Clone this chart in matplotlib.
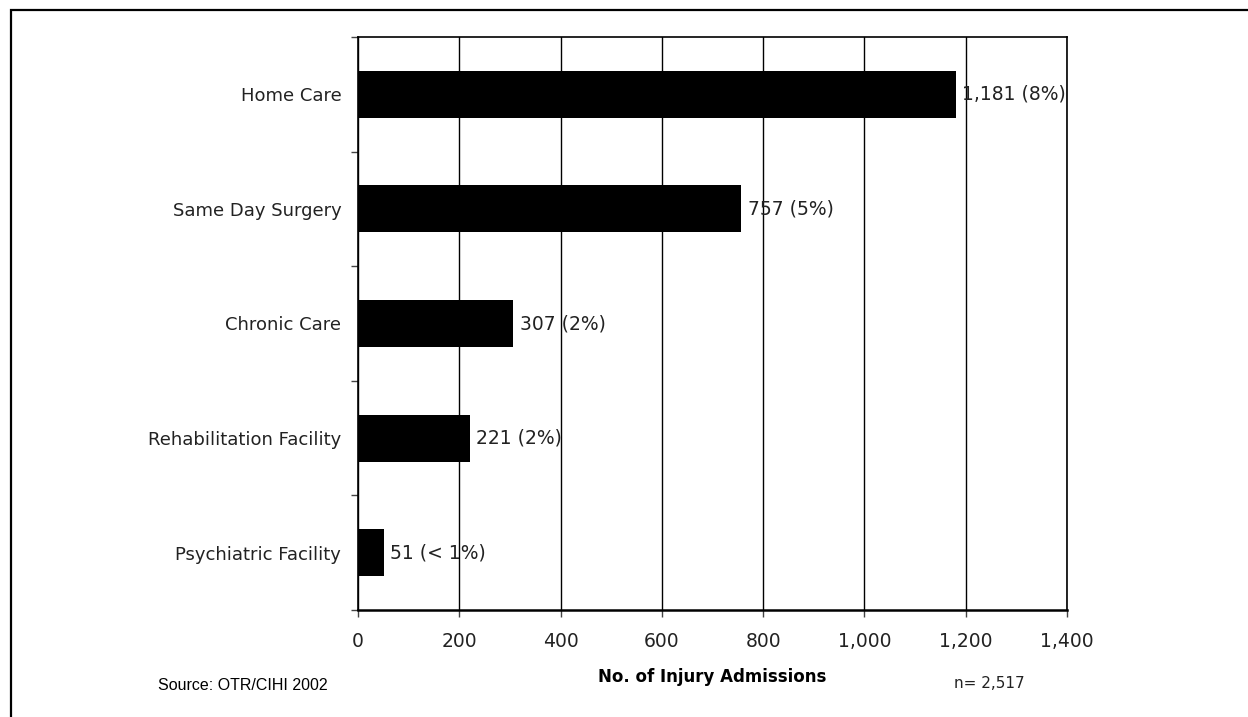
import matplotlib
matplotlib.use("Agg")
import matplotlib.pyplot as plt
from matplotlib.patches import Rectangle
import numpy as np

categories = ["Home Care", "Same Day Surgery", "Chronic Care",
              "Rehabilitation Facility", "Psychiatric Facility"]
admissions = [1181, 757, 307, 221, 51]
pct_labels = ["8%", "5%", "2%", "2%", "< 1%"]
xticks = [0, 200, 400, 600, 800, 1000, 1200, 1400]

txt = "#222222"
plt.rcParams['font.family'] = ['DejaVu Sans']

fig = plt.figure(figsize=(12.48, 7.17), dpi=100)
ax = fig.add_axes([358/1248, 1 - 610/717, (1067 - 358)/1248, (610 - 37)/717])

y = np.arange(len(categories))
ax.barh(y, admissions, height=0.41, color="black", zorder=3)
for yi, v, p in zip(y, admissions, pct_labels):
    ax.annotate(f"{v:,} ({p})", (v, yi), xytext=(4.5, 0), textcoords="offset points",
                va="center", ha="left", fontsize=13.5, color=txt, zorder=4)

ax.set_ylim(len(categories) - 0.5, -0.5)
ax.set_xlim(0, 1400)

# category labels centred, tick marks on the band boundaries
ax.set_yticks(y)
ax.set_yticklabels(categories, fontsize=13, color=txt)
ax.tick_params(axis="y", which="major", length=0, pad=12)
ax.set_yticks(np.arange(len(categories) + 1) - 0.5, minor=True)
ax.tick_params(axis="y", which="minor", length=5, width=1, color="#444444")

ax.set_xticks(xticks)
ax.set_xticklabels([f"{t:,}" for t in xticks], fontsize=13.5, color=txt)
ax.tick_params(axis="x", length=5, width=1, color="#444444", pad=11)

ax.grid(axis="x", color="black", linewidth=1.0, zorder=1)
for s in ax.spines.values():
    s.set_linewidth(1.2)
ax.spines["bottom"].set_linewidth(1.8)

ax.set_xlabel("No. of Injury Admissions", fontsize=12, fontweight="bold", labelpad=12)
fig.text(989/1248, 1 - 684/717, "n= 2,517", fontsize=11, color=txt, ha="center", va="center")
fig.text(158/1248, 1 - 685/717, "Source: OTR/CIHI 2002", fontsize=11.5, color="black",
         family="Liberation Sans", ha="left", va="center")

# outer frame (continues past the right and bottom edges)
fig.patches.append(Rectangle((11/1248, -0.1), 1.2, 1.1 - 10/717, transform=fig.transFigure,
                             fill=False, edgecolor="black", linewidth=1.6))

fig.savefig("out.png", dpi=100)
